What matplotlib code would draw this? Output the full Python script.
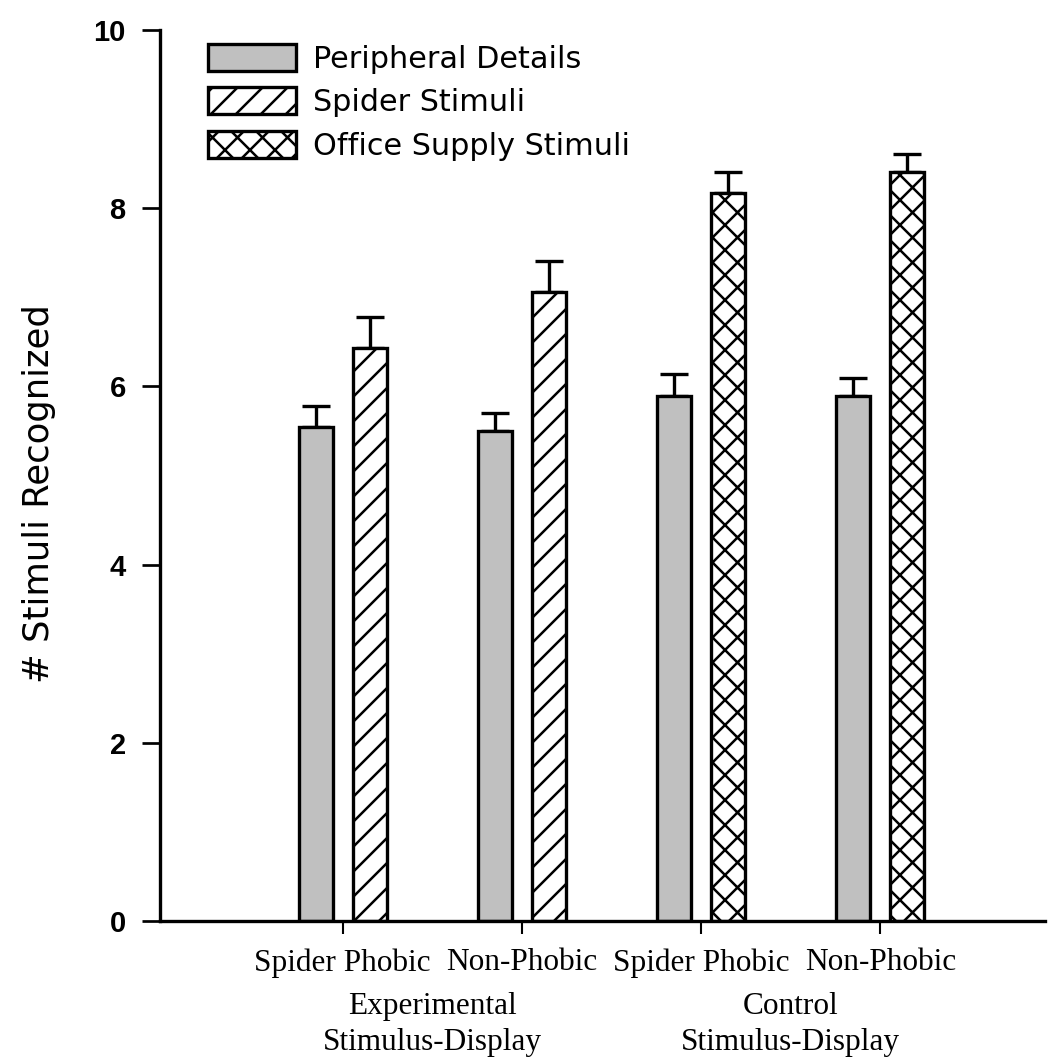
import matplotlib.pyplot as plt
from matplotlib.patches import Patch

# Values
groups = [1, 2, 3, 4]
group_labels = ["Spider Phobic", "Non-Phobic", "Spider Phobic", "Non-Phobic"]
peripheral = [5.54, 5.50, 5.89, 5.89]
peripheral_err = [0.24, 0.20, 0.25, 0.20]
stimuli = [6.43, 7.06, 8.17, 8.41]
stimuli_err = [0.35, 0.35, 0.24, 0.20]
stimuli_hatch = ["//", "//", "xx", "xx"]
display_labels = ["Experimental\nStimulus-Display", "Control\nStimulus-Display"]

plt.rcParams["hatch.linewidth"] = 1.2

fig = plt.figure(figsize=(1055 / 150, 1062 / 150), dpi=150)
ax = fig.add_axes([0.1517, 0.1328, 0.839, 0.839])

width = 0.19
offset = 0.15
lw = 1.6

ax.bar([g - offset for g in groups], peripheral, width, color="#c0c0c0",
       edgecolor="black", linewidth=lw, zorder=2)
ax.errorbar([g - offset for g in groups], peripheral,
            yerr=[[0] * 4, peripheral_err], fmt="none", ecolor="black",
            elinewidth=lw, capsize=6.5, capthick=lw, zorder=1)

for g, v, h in zip(groups, stimuli, stimuli_hatch):
    ax.bar(g + offset, v, width, color="white", edgecolor="black",
           hatch=h, linewidth=lw, zorder=2)
ax.errorbar([g + offset for g in groups], stimuli,
            yerr=[[0] * 4, stimuli_err], fmt="none", ecolor="black",
            elinewidth=lw, capsize=6.5, capthick=lw, zorder=1)

ax.set_xlim(-0.02, 4.92)
ax.set_ylim(0, 10)
ax.set_yticks([0, 2, 4, 6, 8, 10])
ax.set_xticks(groups)
ax.set_xticklabels(group_labels, family="Liberation Serif", fontsize=15)
for lab in ax.get_yticklabels():
    lab.set_family("Liberation Sans")
    lab.set_fontsize(14)
    lab.set_fontweight("bold")

ax.spines["top"].set_visible(False)
ax.spines["right"].set_visible(False)
ax.spines["left"].set_linewidth(1.6)
ax.spines["bottom"].set_linewidth(1.6)
ax.tick_params(axis="y", length=8.5, width=1.3, pad=8)
ax.tick_params(axis="x", length=6, width=1.0, pad=7)

ax.set_ylabel("# Stimuli Recognized", family="DejaVu Sans", fontsize=17)
ax.yaxis.set_label_coords(-0.118, 0.48)

for i, text in enumerate(display_labels):
    xc = (groups[2 * i] + groups[2 * i + 1]) / 2
    ax.text(xc, -0.8, text, ha="center", va="top", family="Liberation Serif",
            fontsize=15, linespacing=1.3)

handles = [
    Patch(facecolor="#c0c0c0", edgecolor="black", linewidth=lw),
    Patch(facecolor="white", edgecolor="black", hatch="//", linewidth=lw),
    Patch(facecolor="white", edgecolor="black", hatch="xx", linewidth=lw),
]
ax.legend(handles, ["Peripheral Details", "Spider Stimuli", "Office Supply Stimuli"],
          loc="upper left", bbox_to_anchor=(0.024, 1.015), frameon=False,
          prop={"family": "DejaVu Sans", "size": 14.5}, handlelength=2.9,
          handleheight=1.0, labelspacing=0.45, handletextpad=0.55)

fig.savefig("out.png", dpi=150)
